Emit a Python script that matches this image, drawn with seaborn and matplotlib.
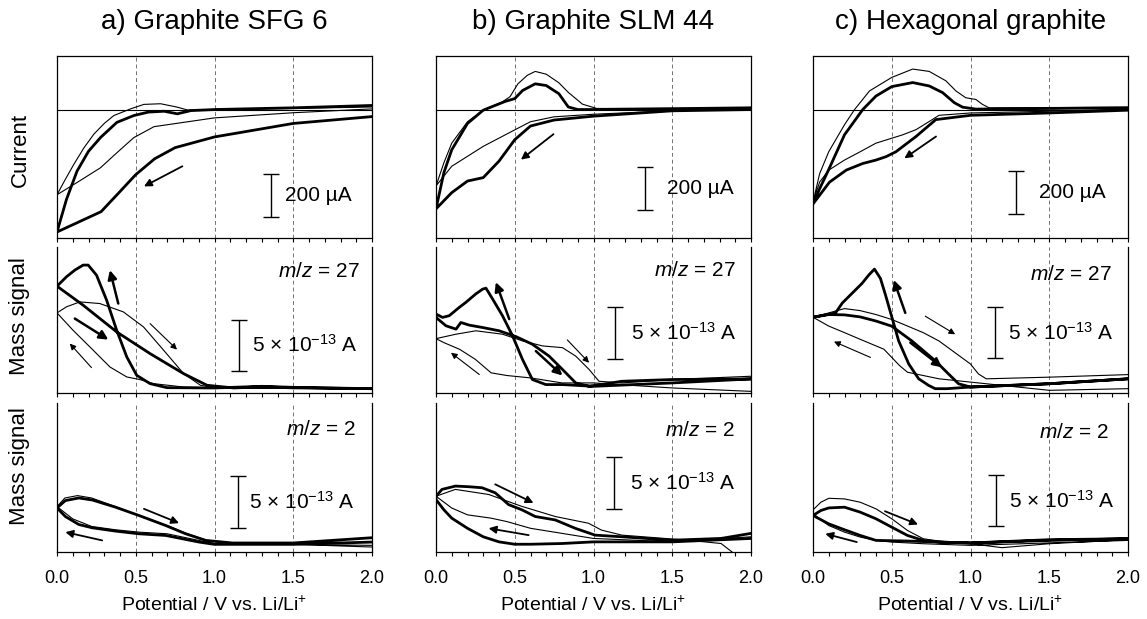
import matplotlib
matplotlib.use("Agg")
import matplotlib.pyplot as plt
import seaborn as sns
from matplotlib.ticker import MultipleLocator, FormatStrFormatter

# ------------------------------------------------------------------
# DATA  (potential in V vs. Li/Li+; current in uA; mass signal in 1e-13 A)
# each cycle: cathodic scan 2.0 -> 0 V followed by anodic scan 0 -> 2.0 V
# ------------------------------------------------------------------
titles = ["a) Graphite SFG 6", "b) Graphite SLM 44", "c) Hexagonal graphite"]
row_labels = ["Current", "Mass signal", "Mass signal"]
mz_values = ["27", "2"]
tick_values = [0.0, 0.5, 1.0, 1.5, 2.0]

# ---- a) SFG 6 : current ----
a_cur_thick_x = [2.0, 1.5, 1.0, 0.75, 0.62, 0.5, 0.4, 0.28, 0.0, 0.06, 0.127, 0.2, 0.276, 0.38, 0.488, 0.58, 0.68, 0.764, 0.85, 1.0, 1.5, 2.0]
a_cur_thick_y = [-33, -65, -128, -178, -230, -304, -383, -477, -572, -420, -288, -195, -131, -60, -28, -12, -8, -20, -5, 0, 8, 19]
a_cur_thin_x = [2.0, 1.5, 1.0, 0.616, 0.488, 0.38, 0.276, 0.14, 0.0, 0.05, 0.106, 0.17, 0.234, 0.3, 0.361, 0.467, 0.552, 0.658, 0.764, 0.828, 1.0, 1.5, 2.0]
a_cur_thin_y = [3, -15, -39, -80, -131, -202, -272, -335, -398, -330, -257, -180, -115, -65, -28, 3, 24, 27, 11, -2, 0, 5, 12]
# ---- a) SFG 6 : m/z = 27 ----
a_m27_thick_x = [2.0, 1.5, 1.3, 1.0, 0.698, 0.591, 0.506, 0.443, 0.379, 0.315, 0.251, 0.198, 0.166, 0.113, 0.06, 0.0, 0.166, 0.379, 0.591, 0.804, 0.953, 1.123, 1.3, 1.5, 2.0]
a_m27_thick_y = [0.42, 0.55, 0.65, 0.49, 0.52, 0.91, 1.72, 3.51, 6.10, 9.03, 11.46, 12.44, 12.44, 11.95, 11.30, 10.39, 8.54, 5.94, 3.83, 1.88, 0.75, 0.49, 0.6, 0.5, 0.42]
a_m27_thin_x = [2.0, 1.5, 1.0, 0.804, 0.613, 0.528, 0.443, 0.336, 0.23, 0.102, 0.0, 0.06, 0.145, 0.272, 0.421, 0.549, 0.677, 0.804, 0.911, 1.0, 1.5, 2.0]
a_m27_thin_y = [0.4, 0.45, 0.5, 0.58, 0.91, 1.30, 1.56, 2.53, 4.16, 6.10, 7.79, 8.38, 8.86, 8.70, 7.89, 6.43, 4.16, 1.88, 0.75, 0.52, 0.5, 0.45]
# ---- a) SFG 6 : m/z = 2 ----
a_m2_thick_x = [2.0, 1.5, 1.0, 0.902, 0.69, 0.52, 0.372, 0.223, 0.138, 0.053, 0.0, 0.053, 0.138, 0.223, 0.372, 0.52, 0.69, 0.817, 0.945, 1.115, 1.5, 2.0]
a_m2_thick_y = [0.96, 0.74, 0.74, 0.96, 1.60, 1.76, 2.02, 2.34, 2.66, 3.43, 4.26, 4.97, 5.22, 5.03, 4.33, 3.53, 2.56, 1.76, 1.12, 0.87, 0.87, 1.38]
a_m2_thin_x = [2.0, 1.5, 1.0, 0.9, 0.7, 0.52, 0.37, 0.22, 0.1, 0.0, 0.05, 0.13, 0.22, 0.37, 0.52, 0.7, 0.8, 0.95, 1.1, 1.5, 2.0]
a_m2_thin_y = [0.64, 0.74, 0.8, 1.12, 1.76, 1.92, 2.15, 2.47, 3.2, 4.39, 5.22, 5.45, 5.22, 4.39, 3.53, 2.56, 1.92, 1.12, 0.87, 0.74, 0.48]

# ---- b) SLM 44 : current ----
b_cur_thick_x = [2.0, 1.5, 1.0, 0.75, 0.6, 0.5, 0.4, 0.3, 0.2, 0.1, 0.0, 0.05, 0.1, 0.2, 0.3, 0.44, 0.5, 0.55, 0.63, 0.7, 0.78, 0.84, 0.9, 1.0, 2.0]
b_cur_thick_y = [0, -6, -31, -49, -77, -141, -241, -318, -334, -388, -464, -295, -188, -65, -3, 38, 51, 89, 120, 112, 74, 12, 0, 0, 8]
b_cur_thin_x = [2.0, 1.5, 1.0, 0.75, 0.6, 0.5, 0.3, 0.1, 0.0, 0.05, 0.1, 0.2, 0.3, 0.42, 0.47, 0.52, 0.58, 0.63, 0.7, 0.78, 0.84, 0.93, 1.02, 2.0]
b_cur_thin_y = [3, -6, -22, -34, -57, -95, -172, -265, -357, -249, -157, -57, -3, 35, 60, 120, 160, 178, 165, 125, 80, 25, 5, 5]
# ---- b) SLM 44 : m/z = 27 ----
b_m27_thick_x = [2.0, 1.5, 1.0, 0.803, 0.697, 0.612, 0.549, 0.486, 0.422, 0.359, 0.317, 0.296, 0.253, 0.19, 0.148, 0.084, 0.042, 0.0,
                 0.0, 0.063, 0.127, 0.158, 0.211, 0.296, 0.401, 0.507, 0.612, 0.718, 0.803, 0.887, 0.972, 1.18, 1.5, 2.0]
b_m27_thick_y = [1.37, 0.98, 0.65, 0.82, 0.82, 1.31, 3.27, 5.56, 7.52, 9.15, 10.2, 10.1, 9.64, 8.82, 8.33, 7.52, 7.35, 7.68,
                 7.35, 6.54, 6.21, 6.86, 6.60, 6.37, 6.05, 5.49, 4.74, 3.59, 2.29, 0.98, 0.65, 1.14, 1.31, 1.37]
b_m27_thin_x = [2.0, 1.5, 1.0, 0.8, 0.6, 0.45, 0.35, 0.25, 0.15, 0.05, 0.0, 0.127, 0.253, 0.422, 0.549, 0.676, 0.803, 0.887, 0.972, 1.035, 1.18, 1.5, 2.0]
b_m27_thin_y = [0.16, 0.49, 0.98, 0.98, 1.47, 1.70, 1.96, 3.27, 4.25, 4.90, 5.29, 5.72, 6.05, 5.72, 5.07, 4.58, 4.41, 3.59, 2.29, 1.14, 0.98, 1.31, 1.63]
# ---- b) SLM 44 : m/z = 2 ----
b_m2_thick_x = [2.0, 1.5, 1.0, 0.8, 0.6, 0.5, 0.4, 0.3, 0.2, 0.1, 0.05, 0.0, 0.0, 0.038, 0.123, 0.207, 0.292, 0.376, 0.461, 0.545, 0.63, 0.757, 0.884, 1.01, 1.18, 1.5, 1.81, 2.0]
b_m2_thick_y = [1.31, 0.98, 0.98, 0.82, 0.75, 0.75, 0.98, 1.47, 2.29, 3.27, 4.08, 5.07, 5.39, 6.05, 6.37, 6.31, 6.21, 5.72, 4.58, 4.08, 3.43, 3.10, 2.29, 1.63, 1.47, 1.14, 1.31, 1.80]
b_m2_thin_x = [2.0, 1.5, 1.0, 0.8, 0.6, 0.45, 0.35, 0.2, 0.1, 0.0, 0.123, 0.334, 0.545, 0.757, 0.968, 1.05, 1.18, 1.6, 1.81, 1.88]
b_m2_thin_y = [1.47, 0.98, 1.31, 1.80, 2.29, 2.94, 3.27, 3.59, 4.25, 5.39, 6.05, 5.56, 4.41, 3.43, 2.78, 2.12, 1.63, 1.14, 0.82, 0.0]

# ---- c) hexagonal graphite : current ----
c_cur_thick_x = [2.0, 1.5, 1.0, 0.78, 0.654, 0.527, 0.464, 0.4, 0.316, 0.211, 0.105, 0.0, 0.042, 0.1, 0.2, 0.316, 0.4, 0.5, 0.633, 0.738, 0.823, 0.897, 0.95, 1.034, 2.0]
c_cur_thick_y = [-3, -16, -27, -47, -126, -197, -220, -236, -252, -283, -339, -441, -370, -280, -118, 0, 63, 107, 126, 110, 79, 32, 11, 2, 8]
c_cur_thin_x = [2.0, 1.5, 1.0, 0.8, 0.74, 0.654, 0.57, 0.5, 0.4, 0.3, 0.2, 0.1, 0.042, 0.0, 0.042, 0.1, 0.2, 0.264, 0.359, 0.5, 0.633, 0.738, 0.844, 0.907, 0.97, 1.034, 1.076, 1.118, 2.0]
c_cur_thin_y = [2, -8, -16, -27, -55, -94, -118, -134, -157, -197, -236, -283, -339, -433, -300, -197, -71, 0, 87, 150, 189, 178, 134, 87, 55, 47, 24, 8, 11]
# ---- c) hexagonal graphite : m/z = 27 ----
c_m27_thick_x = [2.0, 1.5, 1.0, 0.85, 0.776, 0.734, 0.671, 0.608, 0.544, 0.502, 0.46, 0.428, 0.39, 0.354, 0.312, 0.249, 0.186, 0.143, 0.0,
                 0.1, 0.2, 0.3, 0.4, 0.5, 0.628, 0.776, 0.86, 0.924, 1.0, 1.5, 2.0]
c_m27_thick_y = [1.38, 0.90, 0.58, 0.42, 0.42, 0.74, 1.38, 2.82, 5.06, 7.31, 9.55, 11.15, 12.05, 11.47, 10.67, 9.71, 8.75, 7.79, 7.37,
                 7.63, 7.6, 7.4, 7.0, 6.5, 5.06, 3.14, 1.86, 0.90, 0.58, 0.90, 1.38]
c_m27_thin_x = [2.0, 1.5, 1.0, 0.8, 0.6, 0.55, 0.5, 0.45, 0.4, 0.3, 0.2, 0.1, 0.0, 0.1, 0.2, 0.3, 0.4, 0.5, 0.6, 0.7, 0.8, 0.9, 1.0, 1.05, 1.1, 1.5, 2.0]
c_m27_thin_y = [0.42, 0.26, 1.06, 1.38, 2.02, 2.66, 3.46, 4.26, 4.58, 5.22, 5.87, 6.51, 7.37, 7.79, 8.21, 8.01, 7.63, 7.15, 6.51, 5.87, 5.06, 3.94, 2.82, 1.86, 1.38, 1.54, 1.79]
# ---- c) hexagonal graphite : m/z = 2 ----
c_m2_thick_x = [2.0, 1.5, 1.0, 0.8, 0.6, 0.4, 0.3, 0.2, 0.1, 0.0, 0.05, 0.1, 0.2, 0.3, 0.4, 0.5, 0.6, 0.7, 0.8, 1.0, 1.5, 2.0]
c_m2_thick_y = [1.28, 1.12, 0.87, 0.96, 1.06, 1.12, 1.60, 2.15, 2.72, 3.53, 4.01, 4.26, 4.33, 3.85, 3.21, 2.40, 1.60, 1.12, 0.96, 0.87, 1.19, 1.28]
c_m2_thin_x = [2.0, 1.0, 0.7, 0.5, 0.4, 0.3, 0.2, 0.1, 0.0, 0.0, 0.05, 0.1, 0.2, 0.3, 0.4, 0.5, 0.6, 0.7, 0.8, 1.0, 1.2, 1.5, 2.0]
c_m2_thin_y = [1.12, 0.64, 0.80, 0.96, 1.12, 1.44, 1.92, 2.56, 3.69, 4.07, 4.81, 5.19, 5.13, 4.81, 4.17, 3.21, 2.08, 1.28, 1.06, 0.80, 0.42, 0.80, 1.19]

# ------------------------------------------------------------------
# LAYOUT / ANNOTATION placement (not data)
# ------------------------------------------------------------------
curves = {
    (0, 0): ((a_cur_thick_x, a_cur_thick_y), (a_cur_thin_x, a_cur_thin_y)),
    (1, 0): ((a_m27_thick_x, a_m27_thick_y), (a_m27_thin_x, a_m27_thin_y)),
    (2, 0): ((a_m2_thick_x, a_m2_thick_y), (a_m2_thin_x, a_m2_thin_y)),
    (0, 1): ((b_cur_thick_x, b_cur_thick_y), (b_cur_thin_x, b_cur_thin_y)),
    (1, 1): ((b_m27_thick_x, b_m27_thick_y), (b_m27_thin_x, b_m27_thin_y)),
    (2, 1): ((b_m2_thick_x, b_m2_thick_y), (b_m2_thin_x, b_m2_thin_y)),
    (0, 2): ((c_cur_thick_x, c_cur_thick_y), (c_cur_thin_x, c_cur_thin_y)),
    (1, 2): ((c_m27_thick_x, c_m27_thick_y), (c_m27_thin_x, c_m27_thin_y)),
    (2, 2): ((c_m2_thick_x, c_m2_thick_y), (c_m2_thin_x, c_m2_thin_y)),
}
# arrows: (x_from, y_from, x_to, y_to, weight)
arrows = {
    (0, 0): [(0.796, -265, 0.552, -359, 'mid')],
    (0, 1): [(0.746, -115, 0.539, -234, 'mid')],
    (0, 2): [(0.781, -126, 0.580, -228, 'mid')],
    (1, 0): [(0.389, 8.7, 0.336, 11.95, 'thick'), (0.113, 7.24, 0.326, 5.19, 'thick'),
             (0.591, 6.75, 0.762, 4.22, 'thin'), (0.219, 2.47, 0.081, 4.81, 'thin')],
    (1, 1): [(0.465, 7.19, 0.380, 10.78, 'thick'), (0.634, 4.08, 0.803, 1.70, 'thick'),
             (0.834, 5.16, 0.972, 2.94, 'thin'), (0.275, 1.80, 0.095, 3.92, 'thin')],
    (1, 2): [(0.586, 7.79, 0.513, 10.99, 'thick'), (0.618, 4.90, 0.819, 2.50, 'thick'),
             (0.713, 7.47, 0.903, 5.71, 'thin'), (0.365, 3.46, 0.133, 5.0, 'thin')],
    (2, 0): [(0.552, 4.17, 0.775, 2.79, 'mid'), (0.287, 1.12, 0.053, 1.92, 'mid')],
    (2, 1): [(0.376, 6.54, 0.619, 4.74, 'mid'), (0.588, 1.63, 0.334, 2.29, 'mid')],
    (2, 2): [(0.457, 3.94, 0.667, 2.66, 'mid'), (0.278, 0.96, 0.078, 1.76, 'mid')],
}
# scale bars: (x, y_low, y_high, text_x)
scalebars = {
    (0, 0): (1.36, -501, -301, 1.45), (0, 1): (1.328, -469, -269, 1.465), (0, 2): (1.291, -488, -288, 1.435),
    (1, 0): (1.155, 2.14, 7.14, 1.24), (1, 1): (1.136, 3.33, 8.33, 1.235), (1, 2): (1.156, 3.37, 8.37, 1.24),
    (2, 0): (1.15, 2.31, 7.31, 1.22), (2, 1): (1.133, 4.15, 9.15, 1.23), (2, 2): (1.162, 2.47, 7.47, 1.246),
}
mz_pos = {
    (1, 0): (1.92, 11.8), (1, 1): (1.90, 11.9), (1, 2): (1.895, 11.5),
    (2, 0): (1.90, 11.86), (2, 1): (1.90, 11.76), (2, 2): (1.878, 11.54),
}
ylims = [(-600, 250), (0, 14.2), (0, 14.4)]

# ------------------------------------------------------------------
sns.set_style("white")
plt.rcParams['font.family'] = ['Liberation Sans', 'DejaVu Sans']
plt.rcParams['mathtext.fontset'] = 'custom'
plt.rcParams['mathtext.rm'] = 'Liberation Sans'
plt.rcParams['mathtext.it'] = 'Liberation Sans:italic'
plt.rcParams['mathtext.bf'] = 'Liberation Sans:bold'
plt.rcParams['mathtext.sf'] = 'Liberation Sans'
plt.rcParams['text.color'] = 'black'
plt.rcParams['axes.labelcolor'] = 'black'
plt.rcParams['xtick.color'] = 'black'
plt.rcParams['xtick.labelcolor'] = 'black'

W, H = 1147, 619
fig = plt.figure(figsize=(W / 100, H / 100), dpi=100)
col_left = [57, 436, 813]
col_w = 315
rows = [(56, 238), (247, 393), (403, 552)]
ylabel_y = [150, 316, 466]

LW_THICK, LW_THIN = 2.0, 0.8
arrow_style = {'thick': (1.8, 13), 'mid': (1.3, 11), 'thin': (0.8, 9)}

for c in range(3):
    for r in range(3):
        top, bot = rows[r]
        ax = fig.add_axes([col_left[c] / W, 1 - bot / H, col_w / W, (bot - top) / H])
        (tx, ty), (nx, ny) = curves[(r, c)]
        sns.lineplot(x=nx, y=ny, sort=False, estimator=None, color='black', lw=LW_THIN, ax=ax)
        sns.lineplot(x=tx, y=ty, sort=False, estimator=None, color='black', lw=LW_THICK, ax=ax)
        for ln in ax.get_lines():
            ln.set_solid_joinstyle('round')
        ax.set_xlim(0, 2.0)
        ax.set_ylim(*ylims[r])
        for gx in tick_values[1:-1]:
            ax.axvline(gx, color='0.45', lw=0.7, ls=(0, (4, 3)), zorder=0)
        if r == 0:
            ax.axhline(0, color='black', lw=0.8, zorder=1)
        for s in ['left', 'right', 'bottom']:
            ax.spines[s].set_visible(True)
            ax.spines[s].set_color('black')
            ax.spines[s].set_linewidth(0.9)
        ax.spines['top'].set_visible(r == 0)
        ax.spines['top'].set_color('black')
        ax.spines['top'].set_linewidth(0.9)
        ax.set_yticks([])
        ax.xaxis.set_major_locator(MultipleLocator(0.5))
        ax.xaxis.set_minor_locator(MultipleLocator(0.1))
        ax.xaxis.set_major_formatter(FormatStrFormatter('%.1f'))
        ax.tick_params(axis='x', which='both', direction='out', length=3, width=0.8,
                       color='black', labelcolor='black', bottom=True, top=False,
                       labelsize=13, pad=10, labelbottom=(r == 2))
        ax.set_xlabel('')
        ax.set_ylabel('')
        if r == 2:
            ax.set_xlabel('Potential / V vs. Li/Li$^{+}$', fontsize=14, labelpad=6, color='black')

        for (x0, y0, x1, y1, kind) in arrows[(r, c)]:
            lw, ms = arrow_style[kind]
            ax.annotate('', xy=(x1, y1), xytext=(x0, y0),
                        arrowprops=dict(arrowstyle='-|>', lw=lw, color='black',
                                        mutation_scale=ms, shrinkA=0, shrinkB=0))
        sx, sy0, sy1, stx = scalebars[(r, c)]
        ax.errorbar([sx], [(sy0 + sy1) / 2], yerr=[(sy1 - sy0) / 2], color='black',
                    lw=1.0, capsize=6, capthick=1.0, fmt='none')
        lab = '200 µA' if r == 0 else '5 × 10$^{-13}$ A'
        ax.text(stx, (sy0 + sy1) / 2, lab, fontsize=15, ha='left', va='center', color='black')
        if r > 0:
            mx, my = mz_pos[(r, c)]
            ax.text(mx, my, '$m/z$ = ' + mz_values[r - 1], fontsize=15, ha='right',
                    va='center', color='black')

    fig.text((col_left[c] + col_w / 2) / W, 1 - 22 / H, titles[c], fontsize=20,
             ha='center', va='center', color='black')

for r in range(3):
    fig.text(20 / W, 1 - ylabel_y[r] / H, row_labels[r], fontsize=16, rotation=90,
             ha='center', va='center', color='black')

fig.savefig('out.png', dpi=100)
